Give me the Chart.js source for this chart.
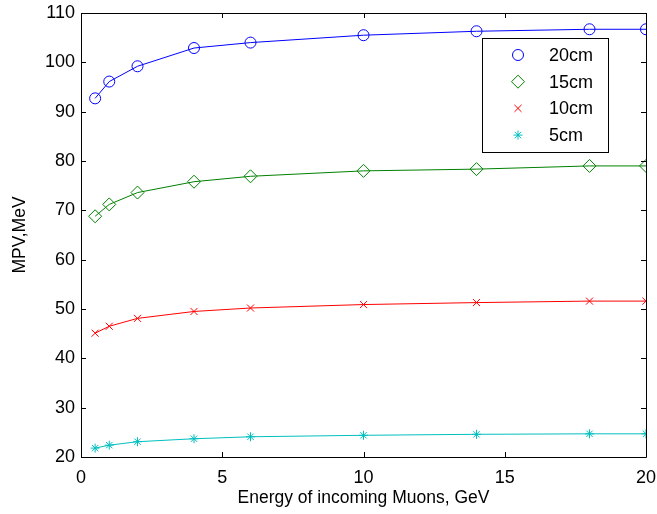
<!DOCTYPE html>
<html>
<head>
<meta charset="utf-8">
<script src="https://cdn.jsdelivr.net/npm/chart.js@4/dist/chart.umd.min.js"></script>
<style>
  html, body { margin: 0; padding: 0; background: #fff; }
  canvas { display: block; }
</style>
</head>
<body>
<canvas id="mpvChart" width="657" height="514"></canvas>
<script>
// muon energy, GeV
const energies = [0.5, 1, 2, 4, 6, 10, 14, 18, 20];

// most probable value of energy loss, MeV, per absorber thickness
const mpv20cm = [92.7, 96.1, 99.2, 102.9, 104.0, 105.5, 106.3, 106.7, 106.7];
const mpv15cm = [68.8, 71.2, 73.6, 75.8, 76.9, 78.0, 78.35, 79.0, 79.0];
const mpv10cm = [45.1, 46.5, 48.1, 49.5, 50.2, 50.9, 51.3, 51.6, 51.6];
const mpv5cm = [21.8, 22.4, 23.1, 23.7, 24.1, 24.4, 24.6, 24.7, 24.7];

const seriesNames = ['20cm', '15cm', '10cm', '5cm'];

const FONT = 'Liberation Sans, Arial, Helvetica, sans-serif';

function toPoints(ys) {
    return energies.map((x, i) => ({ x: x, y: ys[i] }));
}

function makeSet(label, ys, color, style, radius) {
    return {
        label: label,
        data: toPoints(ys),
        borderColor: color,
        backgroundColor: 'rgba(0,0,0,0)',
        borderWidth: 1,
        tension: 0,
        pointStyle: style,
        pointRadius: radius,
        pointBorderColor: color,
        pointBackgroundColor: 'rgba(0,0,0,0)',
        pointBorderWidth: 1,
        pointHoverRadius: radius
    };
}

// matlab-like box with inward ticks on all four sides
const framePlugin = {
    id: 'frame',
    afterDraw(chart) {
        const ctx = chart.ctx;
        const a = chart.chartArea;
        const xs = chart.scales.x;
        const ys = chart.scales.y;
        const len = 5;
        ctx.save();
        ctx.strokeStyle = '#000';
        ctx.lineWidth = 1;
        ctx.beginPath();
        ctx.rect(Math.round(a.left) + 0.5, Math.round(a.top) + 0.5,
                 Math.round(a.right - a.left), Math.round(a.bottom - a.top));
        xs.ticks.forEach(t => {
            const px = Math.round(xs.getPixelForValue(t.value)) + 0.5;
            ctx.moveTo(px, a.bottom);
            ctx.lineTo(px, a.bottom - len);
            ctx.moveTo(px, a.top);
            ctx.lineTo(px, a.top + len);
        });
        ys.ticks.forEach(t => {
            const py = Math.round(ys.getPixelForValue(t.value)) + 0.5;
            ctx.moveTo(a.left, py);
            ctx.lineTo(a.left + len, py);
            ctx.moveTo(a.right, py);
            ctx.lineTo(a.right - len, py);
        });
        ctx.stroke();
        ctx.restore();
    }
};

// legend box in the upper right of the plot
const legendPlugin = {
    id: 'boxLegend',
    afterDraw(chart) {
        const ctx = chart.ctx;
        const left = 482, top = 38, w = 126, h = 114;
        ctx.save();
        ctx.fillStyle = '#fff';
        ctx.fillRect(left, top, w, h);
        ctx.strokeStyle = '#000';
        ctx.lineWidth = 1;
        ctx.strokeRect(left + 0.5, top + 0.5, w, h);
        ctx.font = '18px ' + FONT;
        ctx.textBaseline = 'middle';
        ctx.textAlign = 'left';
        chart.data.datasets.forEach((ds, i) => {
            const y = 55 + i * 26.7;
            ctx.strokeStyle = ds.borderColor;
            ctx.fillStyle = 'rgba(0,0,0,0)';
            ctx.lineWidth = 1;
            Chart.helpers.drawPoint(ctx, {
                pointStyle: ds.pointStyle,
                radius: ds.pointRadius,
                rotation: 0,
                borderWidth: 1
            }, 518, y);
            ctx.fillStyle = '#000';
            ctx.fillText(ds.label, 549, y + 1);
        });
        ctx.restore();
    }
};

const ctx = document.getElementById('mpvChart').getContext('2d');
const mpvChart = new Chart(ctx, {
    type: 'line',
    data: {
        datasets: [
            makeSet(seriesNames[0], mpv20cm, '#0000ff', 'circle', 5.5),
            makeSet(seriesNames[1], mpv15cm, '#008000', 'rectRot', 6.5),
            makeSet(seriesNames[2], mpv10cm, '#ff0000', 'crossRot', 5),
            makeSet(seriesNames[3], mpv5cm, '#00bfbf', 'star', 4.5)
        ]
    },
    options: {
        responsive: false,
        animation: false,
        layout: {
            padding: { top: 13, right: 11, left: 0, bottom: 0 }
        },
        plugins: {
            legend: { display: false },
            tooltip: { enabled: false }
        },
        scales: {
            x: {
                type: 'linear',
                min: 0,
                max: 20,
                afterFit(scale) {
                    scale.height = 57;
                    scale.paddingLeft = 0;
                    scale.paddingRight = 0;
                },
                grid: { display: false, drawTicks: false },
                border: { display: false },
                ticks: {
                    stepSize: 5,
                    padding: 10,
                    color: '#000',
                    font: { family: FONT, size: 18 },
                    maxRotation: 0
                },
                title: {
                    display: true,
                    text: 'Energy of incoming Muons, GeV',
                    color: '#000',
                    font: { family: FONT, size: 17.5 },
                    padding: { top: 0, bottom: 5 }
                }
            },
            y: {
                min: 20,
                max: 110,
                afterFit(scale) {
                    scale.width = 81;
                    scale.paddingTop = 0;
                    scale.paddingBottom = 0;
                },
                grid: { display: false, drawTicks: false },
                border: { display: false },
                ticks: {
                    stepSize: 10,
                    padding: 6,
                    color: '#000',
                    font: { family: FONT, size: 18 }
                },
                title: {
                    display: true,
                    text: 'MPV,MeV',
                    color: '#000',
                    font: { family: FONT, size: 17.5 },
                    padding: { top: 10, bottom: 0 }
                }
            }
        }
    },
    plugins: [framePlugin, legendPlugin]
});
</script>
</body>
</html>
